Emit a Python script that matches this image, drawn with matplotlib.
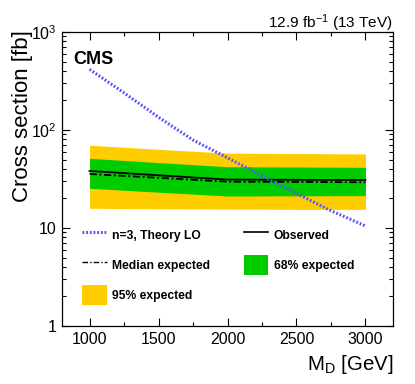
import matplotlib
matplotlib.use("Agg")
import matplotlib.pyplot as plt
from matplotlib.lines import Line2D
from matplotlib.patches import Patch
from matplotlib.ticker import FixedLocator, NullFormatter, LogLocator

plt.rcParams['font.family'] = ['Liberation Sans', 'DejaVu Sans']
plt.rcParams['mathtext.fontset'] = 'custom'
plt.rcParams['mathtext.rm'] = 'Liberation Sans'
plt.rcParams['mathtext.it'] = 'Liberation Sans:italic'
plt.rcParams['mathtext.bf'] = 'Liberation Sans:bold'

# Data
md_theory = [1000, 1250, 1500, 1750, 2000, 2250, 2500, 2750, 3000]
xs_theory = [416, 239, 135, 79, 52, 34, 22.5, 15, 10.5]

md_limit = [1000, 1500, 2000, 2500, 3000]
observed = [38.2, 34.5, 31.2, 31.0, 30.9]
expected = [35.6, 32.5, 29.7, 29.5, 29.3]
band68_lo = [25.4, 23.2, 21.2, 21.3, 21.4]
band68_hi = [51.4, 46.5, 42.2, 41.9, 41.6]
band95_lo = [15.9, 15.7, 15.6, 15.5, 15.5]
band95_hi = [70.0, 63.5, 58.0, 57.5, 57.0]

fig = plt.figure(figsize=(4.15, 3.84), dpi=100)
ax = fig.add_axes([62/415, 1-326/384, (393-62)/415, (326-32)/384])

ax.fill_between(md_limit, band95_lo, band95_hi, color='#ffcc00', lw=0)
ax.fill_between(md_limit, band68_lo, band68_hi, color='#00cc00', lw=0)
ax.plot(md_limit, observed, color='black', lw=1.3, ls='-')
ax.plot(md_limit, expected, color='black', lw=1.3, ls=(0, (4, 1.5, 1, 1.5)))
ax.plot(md_theory, xs_theory, color='#5555ff', lw=2.2, ls=(0, (0.6, 0.6)))

ax.set_yscale('log')
ax.set_xlim(800, 3200)
ax.set_ylim(1, 1000)

ax.xaxis.set_major_locator(FixedLocator([1000, 1500, 2000, 2500, 3000]))
ax.xaxis.set_minor_locator(FixedLocator([750, 1250, 1750, 2250, 2750, 3250]))
ax.yaxis.set_major_locator(FixedLocator([1, 10, 100, 1000]))
ax.yaxis.set_minor_locator(LogLocator(base=10, subs=range(2, 10)))
ax.yaxis.set_minor_formatter(NullFormatter())
ax.set_yticklabels(['1', '10', '$10^{2}$', '$10^{3}$'])

ax.tick_params(which='both', direction='in', top=True, right=True, labelsize=11.5, width=0.8)
ax.tick_params(which='major', length=6, pad=4)
ax.tick_params(which='minor', length=3)
for s in ax.spines.values():
    s.set_linewidth(0.9)

ax.set_xlabel('M$_{\\rm D}$ [GeV]', fontsize=14.7, loc='right', labelpad=5)
ax.set_ylabel('Cross section [fb]', fontsize=16, loc='top')
ax.yaxis.set_label_coords(-29/331, 1.007)

ax.text(0.035, 0.937, 'CMS', transform=ax.transAxes, fontsize=13, fontweight='bold', va='top', ha='left')
ax.text(1.0, 1.0136, '12.9 fb$^{-1}$ (13 TeV)', transform=ax.transAxes, fontsize=11.1, ha='right', va='baseline')

handles = [
    Line2D([], [], color='#5555ff', lw=2.2, ls=(0, (0.6, 0.6))),
    Line2D([], [], color='black', lw=1.0, ls=(0, (4, 1.5, 1, 1.5))),
    Patch(facecolor='#ffcc00', edgecolor='none'),
    Line2D([], [], color='black', lw=1.2),
    Patch(facecolor='#00cc00', edgecolor='none'),
]
labels = ['n=3, Theory LO', 'Median expected', '95% expected', 'Observed', '68% expected']
leg = ax.legend(handles, labels, ncol=2, frameon=False, loc='upper left',
                bbox_to_anchor=(20/331, 0.343), prop={'weight': 'bold', 'size': 8.7},
                handlelength=2.05, handleheight=2.2, labelspacing=0.8,
                columnspacing=2.75, handletextpad=0.45, borderaxespad=0, borderpad=0)

fig.savefig('out.png', dpi=100)
